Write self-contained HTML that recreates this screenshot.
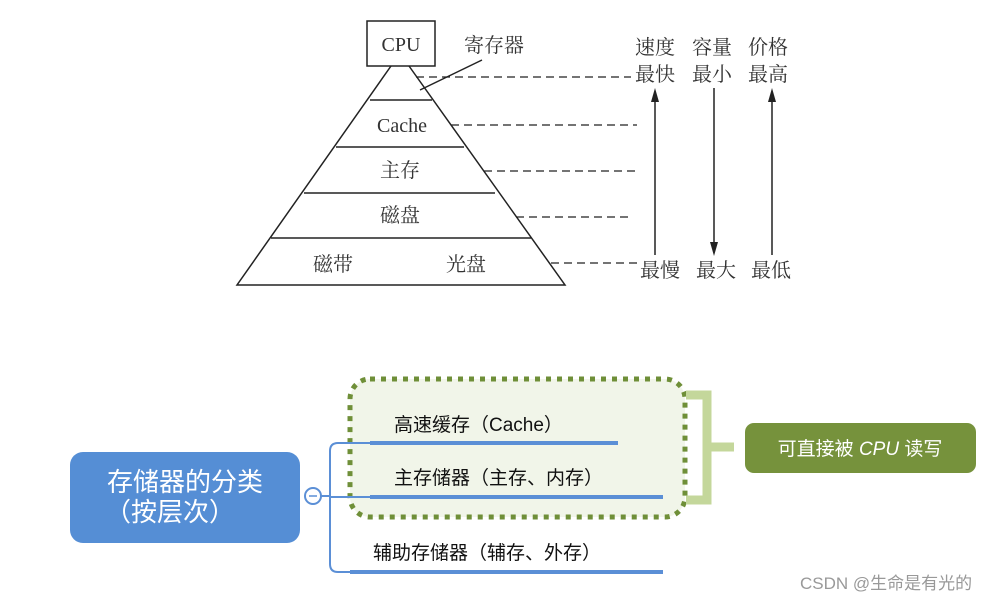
<!DOCTYPE html>
<html><head><meta charset="utf-8"><style>
html,body{margin:0;padding:0;background:#fff;width:1005px;height:603px;overflow:hidden}
</style></head><body>
<svg width="1005" height="603" xmlns="http://www.w3.org/2000/svg">
<g font-family="'Liberation Serif','Noto Serif CJK SC',serif" fill="#333" font-size="20">
<rect x="367" y="21" width="68" height="45" fill="#fff" stroke="#222" stroke-width="1.5"/>
<text x="401" y="51" text-anchor="middle">CPU</text>
<path d="M391,66 L237,285 L565,285 L409,66" fill="none" stroke="#222" stroke-width="1.5"/>
<g stroke="#222" stroke-width="1.5">
<line x1="370" y1="100" x2="432" y2="100"/>
<line x1="336" y1="147" x2="464" y2="147"/>
<line x1="304" y1="193" x2="495" y2="193"/>
<line x1="271" y1="238" x2="531" y2="238"/>
<line x1="420" y1="90" x2="482" y2="60"/>
</g>
<g stroke="#222" stroke-width="1.3" stroke-dasharray="8,5">
<line x1="416" y1="77" x2="631" y2="77"/>
<line x1="451" y1="125" x2="637" y2="125"/>
<line x1="484" y1="171" x2="637" y2="171"/>
<line x1="516" y1="217" x2="633" y2="217"/>
<line x1="551" y1="263" x2="637" y2="263"/>
</g>
<g stroke="#222" stroke-width="1.5">
<line x1="655" y1="255" x2="655" y2="100"/>
<line x1="714" y1="88" x2="714" y2="245"/>
<line x1="772" y1="255" x2="772" y2="100"/>
</g>
<g fill="#222">
<polygon points="655,88 651,102 659,102"/>
<polygon points="714,256 710,242 718,242"/>
<polygon points="772,88 768,102 776,102"/>
</g>
<text x="494" y="52" text-anchor="middle">寄存器</text>
<text x="402" y="132" text-anchor="middle">Cache</text>
<text x="400" y="177" text-anchor="middle">主存</text>
<text x="400" y="222" text-anchor="middle">磁盘</text>
<text x="333" y="271" text-anchor="middle">磁带</text>
<text x="466" y="271" text-anchor="middle">光盘</text>
<text x="655" y="54" text-anchor="middle">速度</text>
<text x="655" y="81" text-anchor="middle">最快</text>
<text x="712" y="54" text-anchor="middle">容量</text>
<text x="712" y="81" text-anchor="middle">最小</text>
<text x="768" y="54" text-anchor="middle">价格</text>
<text x="768" y="81" text-anchor="middle">最高</text>
<text x="660" y="277" text-anchor="middle">最慢</text>
<text x="716" y="277" text-anchor="middle">最大</text>
<text x="771" y="277" text-anchor="middle">最低</text>
</g>
<g font-family="'Liberation Sans','Noto Sans CJK SC',sans-serif">
<rect x="350" y="379" width="335" height="138" rx="20" fill="#f1f5e9" stroke="#6f8f38" stroke-width="5" stroke-dasharray="5,6"/>
<path d="M686,395 H707 V500 H686" fill="none" stroke="#c4d79b" stroke-width="9"/>
<line x1="711" y1="447" x2="734" y2="447" stroke="#c4d79b" stroke-width="9"/>
<rect x="745" y="423" width="231" height="50" rx="9" fill="#76923c"/>
<text x="860" y="455" text-anchor="middle" fill="#fff" font-size="19">可直接被 <tspan font-style="italic">CPU</tspan> 读写</text>
<path d="M321,496 H330 M370,443 H338 Q330,443 330,451 V564 Q330,572 338,572 H350 M330,497 H370" fill="none" stroke="#5b8fd6" stroke-width="2"/>
<rect x="70" y="452" width="230" height="91" rx="13" fill="#558ed5"/>
<text x="185" y="491" text-anchor="middle" fill="#fff" font-size="26">存储器的分类</text>
<text x="170" y="521" text-anchor="middle" fill="#fff" font-size="26">（按层次）</text>
<circle cx="313" cy="496" r="8" fill="#fff" stroke="#5b8fd6" stroke-width="2"/>
<line x1="309" y1="496" x2="317" y2="496" stroke="#5b8fd6" stroke-width="1.5"/>
<g stroke="#5b8fd6" stroke-width="4">
<line x1="370" y1="443" x2="618" y2="443"/>
<line x1="370" y1="497" x2="663" y2="497"/>
<line x1="350" y1="572" x2="663" y2="572"/>
</g>
<g font-size="19" fill="#111">
<text x="394" y="431">高速缓存（Cache）</text>
<text x="394" y="484">主存储器（主存、内存）</text>
<text x="373" y="559">辅助存储器（辅存、外存）</text>
</g>
<text x="800" y="589" fill="#999" font-size="17">CSDN @生命是有光的</text>
</g>
</svg>
</body></html>
